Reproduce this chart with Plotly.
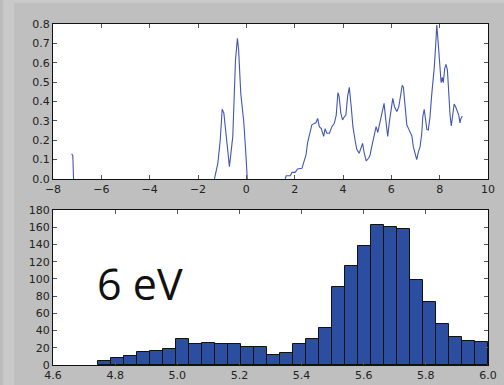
import numpy as np
import plotly.graph_objects as go
from plotly.subplots import make_subplots

# ---- top panel: curve (None = gap where the curve lies on zero) ----
dos_x = [-7.23, -7.18, -7.15, None,
         -1.32, -1.18, -1.08, -1.0, -0.93, -0.82, -0.70, -0.56, -0.45, -0.37, -0.32, -0.23, -0.11, -0.04, 0.04, None,
         1.61, 1.65, 1.82, 1.89, 2.02, 2.12, 2.30, 2.37, 2.47, 2.53, 2.64, 2.71, 2.81, 2.88, 2.95, 3.02, 3.10,
         3.20, 3.26, 3.33, 3.44, 3.54, 3.64, 3.72, 3.79, 3.84, 3.91, 3.98, 4.05, 4.12, 4.19, 4.26, 4.34, 4.41,
         4.50, 4.57, 4.67, 4.74, 4.81, 4.88, 4.96, 5.06, 5.12, 5.19, 5.26, 5.33, 5.37, 5.44, 5.51, 5.59, 5.65,
         5.70, 5.77, 5.85, 5.92, 5.99, 6.06, 6.13, 6.23, 6.31, 6.38, 6.45, 6.50, 6.57, 6.64, 6.71, 6.78, 6.85,
         6.91, 6.98, 7.05, 7.12, 7.19, 7.26, 7.30, 7.36, 7.41, 7.47, 7.53, 7.60, 7.67, 7.74, 7.78, 7.84, 7.88,
         7.92, 7.98, 8.02, 8.06, 8.11, 8.15, 8.21, 8.26, 8.32, 8.37, 8.43, 8.48, 8.54, 8.60, 8.66, 8.73, 8.79,
         8.84, 8.88, 8.94]
dos_y = [0.13, 0.12, 0.0, None,
         0.0, 0.08, 0.20, 0.36, 0.34, 0.20, 0.064, 0.22, 0.61, 0.726, 0.67, 0.44, 0.30, 0.17, 0.0, None,
         0.0, 0.017, 0.017, 0.034, 0.034, 0.052, 0.055, 0.08, 0.124, 0.184, 0.236, 0.28, 0.287, 0.29, 0.313, 0.27, 0.26,
         0.22, 0.26, 0.236, 0.236, 0.27, 0.287, 0.33, 0.446, 0.425, 0.34, 0.305, 0.32, 0.33, 0.425, 0.473, 0.373, 0.27,
         0.20, 0.153, 0.133, 0.158, 0.184, 0.133, 0.093, 0.107, 0.124, 0.167, 0.21, 0.236, 0.27, 0.24, 0.28, 0.34, 0.377,
         0.39, 0.305, 0.22, 0.296, 0.356, 0.416, 0.373, 0.348, 0.373, 0.442, 0.484, 0.473, 0.39, 0.28, 0.26, 0.236, 0.222,
         0.167, 0.124, 0.10, 0.14, 0.167, 0.236, 0.32, 0.36, 0.32, 0.256, 0.253, 0.32, 0.434, 0.51, 0.58, 0.70, 0.795,
         0.735, 0.63, 0.563, 0.497, 0.525, 0.497, 0.571, 0.592, 0.563, 0.442, 0.33, 0.274, 0.33, 0.387, 0.373, 0.348, 0.33,
         0.29, 0.313, 0.325]

# ---- bottom panel: histogram counts ----
hist_start = 4.745
hist_end = 6.0
hist_counts = [5, 8, 10, 15, 16, 18, 30, 24, 26, 24, 24, 21, 21, 12, 14, 24, 30, 43, 91, 115,
               138, 163, 160, 158, 99, 73, 48, 32, 28, 27]

edges = np.linspace(hist_start, hist_end, len(hist_counts) + 1)
centers = (edges[:-1] + edges[1:]) / 2
widths = np.diff(edges)

top_xticks = [-8, -6, -4, -2, 0, 2, 4, 6, 8, 10]
top_yticks = [0.0, 0.1, 0.2, 0.3, 0.4, 0.5, 0.6, 0.7, 0.8]
bot_xticks = [4.6, 4.8, 5.0, 5.2, 5.4, 5.6, 5.8, 6.0]
bot_yticks = [0, 20, 40, 60, 80, 100, 120, 140, 160, 180]
label_text = "6 eV"

fig = make_subplots(rows=2, cols=1, vertical_spacing=0.091)

fig.add_trace(go.Scatter(x=dos_x, y=dos_y, mode="lines", connectgaps=False,
                         line=dict(color="#4256b4", width=1.1), showlegend=False), row=1, col=1)
fig.add_trace(go.Bar(x=centers, y=hist_counts, width=widths,
                     marker=dict(color="#2b4ea0", line=dict(color="#111111", width=1)),
                     showlegend=False), row=2, col=1)

font = dict(family="DejaVu Sans", size=11, color="#222222")
axis_common = dict(showline=True, linecolor="#111111", linewidth=1, mirror="ticks",
                   ticks="inside", ticklen=4, tickcolor="#555555", tickwidth=1,
                   showgrid=False, zeroline=False, tickfont=font, automargin=False)

fig.update_xaxes(range=[-8, 10], tickvals=top_xticks,
                 ticktext=[str(v).replace("-", "\u2212") for v in top_xticks], row=1, col=1, **axis_common)
fig.update_yaxes(range=[0, 0.8], tickvals=top_yticks,
                 ticktext=[f"{v:.1f}" for v in top_yticks], row=1, col=1, **axis_common)
fig.update_xaxes(range=[4.6, 6.0], tickvals=bot_xticks,
                 ticktext=[f"{v:.1f}" for v in bot_xticks], row=2, col=1, **axis_common)
fig.update_yaxes(range=[0, 180], tickvals=bot_yticks,
                 ticktext=[str(v) for v in bot_yticks], row=2, col=1, **axis_common)

fig.update_layout(
    width=504, height=385,
    margin=dict(l=53, r=16, t=24, b=20),
    paper_bgcolor="#c9c9c9", plot_bgcolor="white", bargap=0,
    shapes=[
        dict(type="rect", xref="paper", yref="paper", x0=-0.0897, x1=1.04, y0=-0.06, y1=1.0616,
             fillcolor="#bfbfbf", line=dict(width=0), layer="below"),
        dict(type="rect", xref="paper", yref="paper", x0=-0.13, x1=-0.1149, y0=-0.06, y1=1.08,
             fillcolor="#bcbcbc", line=dict(width=0), layer="below"),
        dict(type="rect", xref="paper", yref="paper", x0=0, x1=1, y0=0.5455, y1=1,
             fillcolor="white", line=dict(width=0), layer="below"),
        dict(type="rect", xref="paper", yref="paper", x0=0, x1=1, y0=0, y1=0.4545,
             fillcolor="white", line=dict(width=0), layer="below"),
    ],
    annotations=[dict(x=4.88, y=95, xref="x2", yref="y2", text=label_text, showarrow=False,
                      font=dict(family="Open Sans", size=43, color="#111111"))],
)

fig.write_html("out.html")
